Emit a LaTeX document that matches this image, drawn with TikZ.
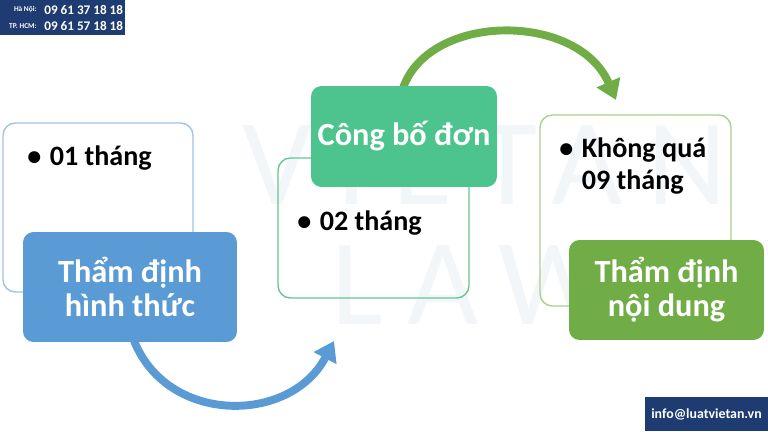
\documentclass[tikz,border=0pt]{standalone}
\usepackage{fontspec}
\setmainfont{Carlito}
\usetikzlibrary{arrows.meta}
\usetikzlibrary{positioning}
\definecolor{navy}{HTML}{1E3C72}
\definecolor{blueline}{HTML}{9DC3E6}
\definecolor{bluefill}{HTML}{5B9BD5}
\definecolor{mintline}{HTML}{62C794}
\definecolor{mintfill}{HTML}{4DC48D}
\definecolor{leafline}{HTML}{A9D18E}
\definecolor{leaffill}{HTML}{70AD47}
\definecolor{wmark}{HTML}{F3F6F9}
\tikzset{
frame/.style={ % outline box behind each step
draw, line width=0.8pt, rounded corners=7pt},
stepbox/.style={ % coloured box with the step name
rounded corners=6pt, text=white, align=center,
font=\fontsize{18.4}{19.5}\selectfont\bfseries},
bullet/.style={ % bullet text inside the frames
anchor=west, align=left, inner sep=0pt,
font=\fontsize{16}{18.2}\selectfont\bfseries},
flow/.style={ % thick curved arrows
line width=4.5pt,
-{Triangle[length=11pt,width=14pt]}},
infobox/.style={fill=navy, text=white, inner sep=0pt}}
\newcommand{\bul}{•\hspace{0.3em}}

\begin{document}
\begin{tikzpicture}[x=0.02cm,y=-0.02cm]
	\useasboundingbox (0,0) rectangle (768,432);
	% watermark
	\node[text=wmark, font=\fontsize{70}{70}\selectfont\addfontfeature{LetterSpace=20}] (wm1) at (485,165) {VIETAN};
	\node[text=wmark, font=\fontsize{70}{70}\selectfont\addfontfeature{LetterSpace=20}] (wm2) at (470,285) {LAW};
	% contact boxes
	\node[infobox, minimum width=2.5cm, minimum height=0.7cm] (phone) at (62.5,17.5) {};
	\node[white, font=\fontsize{4.2}{5}\selectfont\bfseries, anchor=east, inner sep=0pt] (hn) at (37,10) {Hà Nội:};
	\node[white, font=\fontsize{4.2}{5}\selectfont\bfseries, anchor=east, inner sep=0pt] (hcm) at (37,26) {TP. HCM:};
	\node[white, font=\fontsize{7.5}{9}\selectfont\bfseries, anchor=west, inner sep=0pt] (hnnum) at (44,10) {09 61 37 18 18};
	\node[white, font=\fontsize{7.5}{9}\selectfont\bfseries, anchor=west, inner sep=0pt] (hcmnum) at (44,26) {09 61 57 18 18};
	\node[infobox, minimum width=2.46cm, minimum height=0.68cm, font=\fontsize{7.9}{9}\selectfont\bfseries] (mail) at (706.5,414) {info@luatvietan.vn};
	% step 1
	\node[frame, draw=blueline, minimum width=3.8cm, minimum height=3.38cm] (f1) at (98,207.5) {};
	\node[bullet] (t1) at (27,158) {\bul 01 tháng};
	\coordinate (a1) at (133,338);
	\coordinate (a2) at (334,341);
	\draw[flow, bluefill] (a1) .. controls (165,425) and (290,425) .. (a2);
	\node[stepbox, fill=bluefill, minimum width=4.28cm, minimum height=2.2cm] (s1) at (130,287) {Thẩm định\\hình thức};
	% step 2
	\node[frame, draw=mintline, minimum width=3.82cm, minimum height=2.8cm] (f2) at (373.5,228) {};
	\node[bullet] (t2) at (297,223) {\bul 02 tháng};
	\coordinate (b1) at (403,88);
	\coordinate (b2) at (616,100);
	\draw[flow, leaffill] (b1) .. controls (430,12) and (578,12) .. (b2);
	\node[stepbox, fill=mintfill, minimum width=3.72cm, minimum height=2.02cm] (s2) at (404,136.5) {Công bố đơn};
	% step 3
	\node[frame, draw=leafline, minimum width=3.82cm, minimum height=3.82cm] (f3) at (635.5,210.5) {};
	\node[bullet] (t3) at (559,166) {\bul Không quá\\\phantom{\bul}09 tháng};
	\node[stepbox, fill=leaffill, minimum width=3.9cm, minimum height=2.0cm] (s3) at (666.5,290) {Thẩm định\\nội dung};
\end{tikzpicture}
\end{document}
